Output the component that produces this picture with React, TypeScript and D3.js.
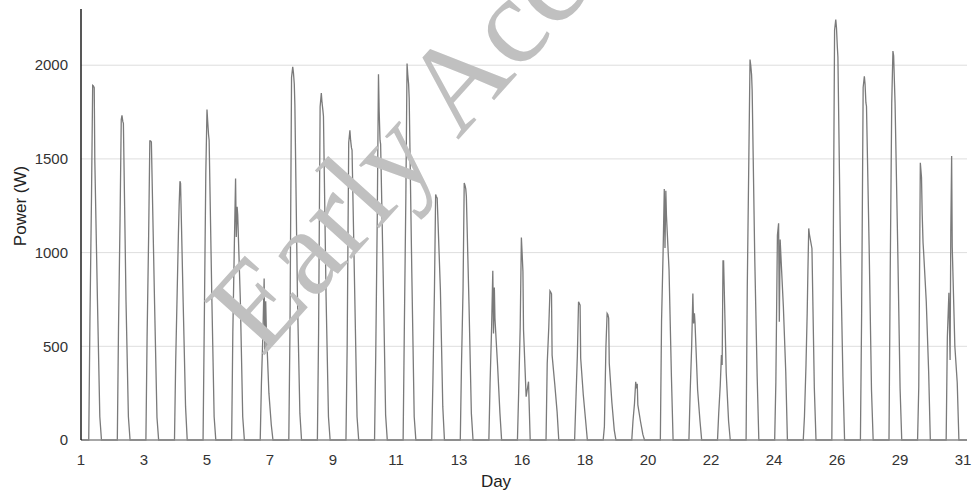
import React from "react";
import * as d3 from "d3";

// Hour-of-day at which each profile point is read (same for every day)
const slotHours = [6.5, 7.5, 8.8, 9.8, 10.4, 11.1, 11.6, 13.8, 15.8, 17.2];

// Per-day values (W), days 1..31
const riseLow = [636, 600, 551, 412, 608, 578, 300, 597, 569, 498, 453, 587, 311, 400, 300, 250, 410, 197, 71, 100, 631, 249, 142, 821, 311, 124, 827, 661, 875, 284, 551];
const riseHigh = [1290, 1180, 1090, 800, 1419, 1050, 580, 1934, 1778, 1586, 1200, 1300, 800, 800, 600, 600, 600, 450, 498, 196, 1000, 500, 293, 1500, 1093, 400, 2187, 1881, 1800, 1479, 786];
const peakA = [1893, 1710, 1596, 1100, 1764, 1396, 862, 1991, 1852, 1653, 1952, 2009, 1310, 1372, 903, 1081, 796, 738, 676, 311, 1339, 782, 453, 2030, 1156, 676, 2243, 1941, 2076, 1400, 427];
const peakMid = [1890, 1733, 1596, 1250, 1700, 1084, 462, 1960, 1800, 1600, 1750, 1950, 1300, 1360, 569, 1000, 790, 730, 670, 276, 1024, 622, 400, 2000, 631, 900, 2200, 1900, 2050, 1200, 1111];
const peakB = [1880, 1700, 1590, 1381, 1630, 1244, 740, 1900, 1760, 1560, 1600, 1900, 1290, 1340, 814, 900, 780, 720, 650, 300, 1330, 676, 956, 1950, 1070, 1129, 2100, 1800, 1900, 1052, 1516];
const fallA = [1493, 1690, 1429, 1370, 1600, 1200, 600, 1787, 1728, 1547, 1579, 1822, 1200, 1300, 649, 587, 453, 436, 409, 187, 1200, 626, 956, 1863, 1000, 1100, 2044, 1781, 1796, 1000, 1031];
const fallB = [750, 740, 725, 732, 782, 747, 250, 747, 764, 800, 864, 889, 800, 729, 400, 231, 300, 240, 200, 100, 907, 267, 359, 960, 711, 1022, 996, 1040, 1040, 738, 500];
const tail = [124, 124, 120, 178, 124, 124, 80, 142, 124, 124, 133, 124, 178, 142, 142, 311, 150, 100, 53, 30, 338, 100, 100, 338, 364, 276, 338, 267, 276, 364, 306];

const dayLabels = ["1", "3", "5", "7", "9", "11", "13", "16", "18", "20", "22", "24", "26", "29", "31"];
const yTicks = [0, 500, 1000, 1500, 2000];
const nDays = 31;

export default function App() {
  const W = 976, H = 493;
  const x0 = 81, x1 = 967, yBottom = 440, yTop = 9;
  const x = d3.scaleLinear().domain([0, nDays * 24]).range([x0, x1]);
  const y = d3.scaleLinear().domain([0, 2300]).range([yBottom, yTop]);
  const labelX = d3.scalePoint<string>().domain(dayLabels).range([81, 963]);

  const pts: [number, number][] = [[0, 0]];
  for (let d = 0; d < nDays; d++) {
    const vals = [0, riseLow[d], riseHigh[d], peakA[d], peakMid[d], peakB[d], fallA[d], fallB[d], tail[d], 0];
    slotHours.forEach((h, i) => pts.push([d * 24 + h, vals[i]]));
  }
  pts.push([nDays * 24, 0]);
  const line = d3.line<[number, number]>().x((p) => x(p[0])).y((p) => y(p[1]));

  const font = "'Liberation Sans', Arial, sans-serif";
  return (
    <svg width={W} height={H} style={{ position: "absolute", left: 0, top: 0, background: "#fff" }}>
      {yTicks.filter((t) => t > 0).map((t) => (
        <line key={t} x1={x0} x2={x1} y1={y(t)} y2={y(t)} stroke="#dedede" strokeWidth={1} />
      ))}
      <path d={line(pts) || ""} fill="none" stroke="#7a7a7a" strokeWidth={1.3} strokeLinejoin="miter" />
      <line x1={x0} x2={x1} y1={yBottom} y2={yBottom} stroke="#8a8a8a" strokeWidth={1.5} />
      <line x1={x0} x2={x0} y1={yTop} y2={yBottom} stroke="#111" strokeWidth={1.4} />
      {yTicks.map((t) => (
        <text key={t} x={68} y={y(t)} dy="0.35em" textAnchor="end" fontFamily={font} fontSize={15} fill="#333">{t}</text>
      ))}
      {dayLabels.map((l) => (
        <text key={l} x={labelX(l)} y={465} textAnchor="middle" fontFamily={font} fontSize={15} fill="#333">{l}</text>
      ))}
      <text x={496} y={487} textAnchor="middle" fontFamily={font} fontSize={17} fill="#222">Day</text>
      <text transform="translate(20,206) rotate(-90)" textAnchor="middle" dominantBaseline="central" fontFamily={font} fontSize={17} fill="#222">Power (W)</text>
      <text transform="translate(262,358) rotate(-48)" fontFamily="'Liberation Serif', 'Times New Roman', serif" fontSize={124} fill="#c0c0c0">Early Access</text>
    </svg>
  );
}
